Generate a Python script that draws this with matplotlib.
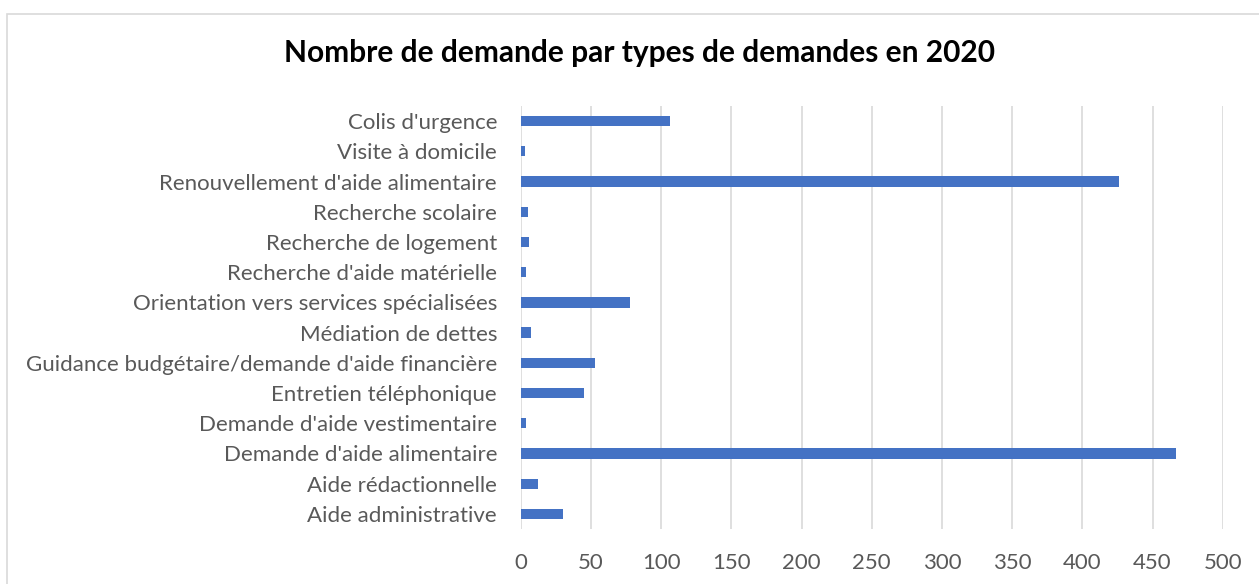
import matplotlib.pyplot as plt
from matplotlib.patches import Rectangle

# demand types, top to bottom as shown in the chart
categories = [
    "Colis d'urgence",
    "Visite à domicile",
    "Renouvellement d'aide alimentaire",
    "Recherche scolaire",
    "Recherche de logement",
    "Recherche d'aide matérielle",
    "Orientation vers services spécialisées",
    "Médiation de dettes",
    "Guidance budgétaire/demande d'aide financière",
    "Entretien téléphonique",
    "Demande d'aide vestimentaire",
    "Demande d'aide alimentaire",
    "Aide rédactionnelle",
    "Aide administrative",
]
counts = [106, 3, 426, 5, 6, 4, 78, 7, 53, 45, 4, 467, 12, 30]
xticks = [0, 50, 100, 150, 200, 250, 300, 350, 400, 450, 500]
title = "Nombre de demande par types de demandes en 2020"

plt.rcParams['font.family'] = ['Lato', 'DejaVu Sans']

W, H = 1259, 584
fig = plt.figure(figsize=(W / 100, H / 100), dpi=100)

# outer chart border (cut off at right and bottom)
fig.patches.append(Rectangle((7 / W, -0.1), 1.2, 1 - 14 / H + 0.1,
                             transform=fig.transFigure, fill=False,
                             edgecolor='#d9d9d9', linewidth=1.2))

ax = fig.add_axes([520.7 / W, 1 - 529 / H, (1222.7 - 520.7) / W, (529 - 106) / H])

ypos = list(range(len(categories)))
ax.barh(ypos, counts, height=0.34, color='#4472C4', zorder=3)

ax.set_xlim(0, 500)
ax.set_ylim(len(categories) - 0.5, -0.5)
ax.set_xticks(xticks)
ax.set_xticklabels([str(t) for t in xticks])
ax.set_yticks(ypos)
ax.set_yticklabels(categories)

ax.grid(axis='x', color='#d9d9d9', linewidth=1.2, zorder=0)
for s in ax.spines.values():
    s.set_visible(False)
ax.tick_params(axis='both', length=0, colors='#595959', labelsize=16)
ax.tick_params(axis='y', pad=17)
ax.tick_params(axis='x', pad=17)

fig.text(639 / W, 1 - 53 / H, title, ha='center', va='center',
         fontsize=21.5, fontweight='bold', color='black')

fig.savefig('out.png', dpi=100)
